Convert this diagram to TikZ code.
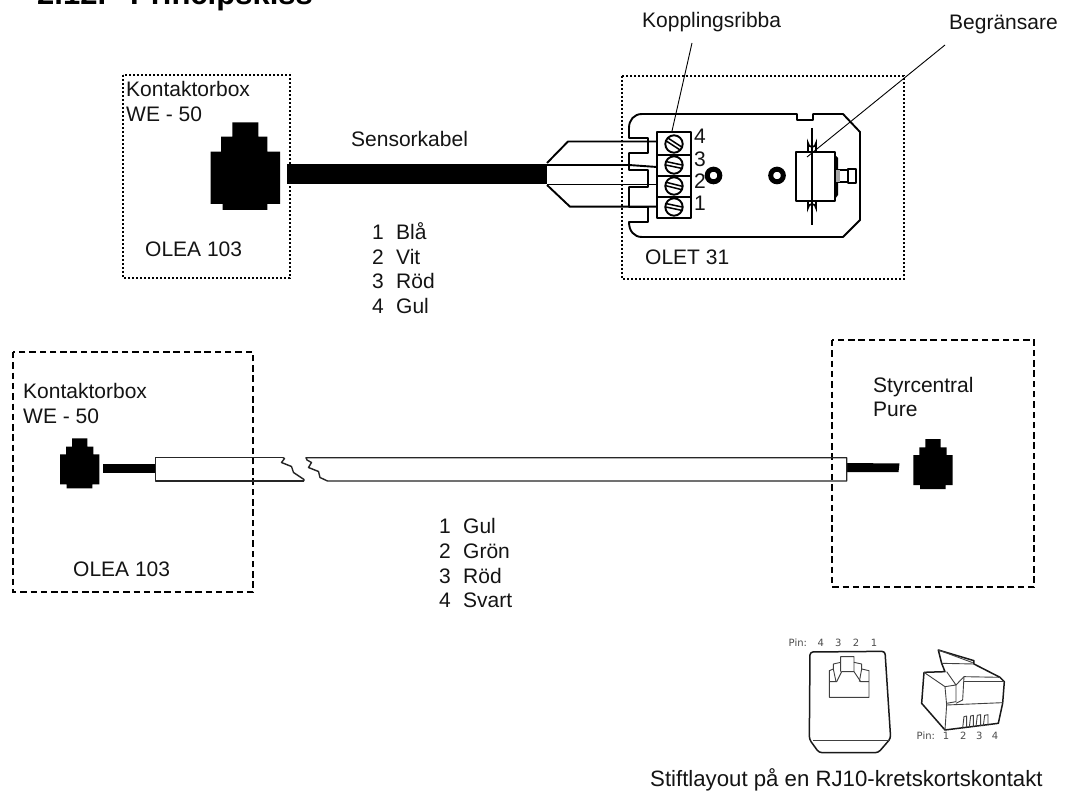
\documentclass[tikz,border=0pt]{standalone}
\usepackage{fontspec}
\setmainfont{Liberation Sans}
\newfontfamily\pinfont{DejaVu Sans}
\tikzset{
 lab/.style={anchor=base west,inner sep=0pt,font=\fontsize{21}{25}\selectfont,text=black!92},
 pinlab/.style={anchor=base,inner sep=0pt,font=\pinfont\fontsize{10}{12}\selectfont,text=black!70},
 dotbox/.style={draw=black,line width=1.6pt,dash pattern=on 2.4pt off 1.6pt},
 dashbox/.style={draw=black,line width=1.8pt,dash pattern=on 6.5pt off 3.8pt},
 body/.style={draw=black,line width=1.9pt,line join=round},
 thinbody/.style={draw=black!85,line width=1.4pt,line join=round},
 leader/.style={draw=black,line width=.9pt},
 sketch/.style={draw=black!75,line width=.9pt,line join=round},
 sketchb/.style={draw=black!90,line width=1.5pt,line join=round},
}
\begin{document}
\begin{tikzpicture}[x=1pt,y=-1pt]
\useasboundingbox (0,0) rectangle (1074,794);
\clip (0,0) rectangle (1074,794);
\fill[white] (0,0) rectangle (1074,794);
% title
\node[anchor=base west,inner sep=0pt,font=\fontsize{31}{31}\bfseries\selectfont] (title) at (37,5) {2.12.};
\node[anchor=base west,inner sep=0pt,font=\fontsize{31}{31}\bfseries\selectfont] (title2) at (130,5) {Principskiss};
% dotted boxes
\draw[dotbox] (123,75) rectangle (290,278);
\draw[dotbox] (622,76) rectangle (904,279);
% dashed boxes
\draw[dashbox] (13,352) rectangle (253,592);
\draw[dashbox] (832,340) rectangle (1034,587);
% upper plug
\fill (232.3,122.3) -| (258.3,136.7) -| (267.3,151.7) -| (280,204) -| (267.3,210) -| (222.7,204) -| (210.7,151.7) -| (221,136.7) -| (232.3,122.3) -- cycle;
% black cable
\fill (287,164) rectangle (547,184);
% sensor body
\draw[body] (642,114) -- (797,114) -- (797,120) -- (813,120) -- (813,114) -- (843,114) -- (860,132) -- (860,220) -- (843,237) -- (642,237)
 .. controls (634,237) and (629,231) .. (629,222) -- (648,222) -- (648,207) -- (629,207) -- (629,187) -- (648,187) -- (648,170) -- (629,170) -- (629,153) -- (648,153) -- (648,138) -- (629,138) -- (629,128)
 .. controls (629,120) and (634,114) .. (642,114) -- cycle;
% wires
\draw[body] (547,163) -- (568,141.5) -- (657,141.5);
\draw[body] (547,165) -- (629,165) -- (657,167);
\draw[body] (547,184.5) -- (657,184.5);
\draw[body] (547,185) -- (570,206.7) -- (657,206.7);
% terminal block
\draw[body,fill=white] (657,132) rectangle (691,218);
\draw[body] (657,155) -- (691,155) (657,176) -- (691,176) (657,197) -- (691,197);
\foreach \yy/\ang in {144/33,165/12,186/14,207/12}{
 \draw[body,fill=white] (674,\yy) circle (8.7);
 \begin{scope}[shift={(674,\yy)},rotate=-\ang]
  \draw[line width=1.5pt] (-8,-1.7) -- (8,-1.7) (-8,1.7) -- (8,1.7);
 \end{scope}
}
\node[lab] (n4) at (694,144) {4};
\node[lab] (n3) at (694,167) {3};
\node[lab] (n2) at (694,189) {2};
\node[lab] (n1) at (694,211) {1};
% rings
\draw[line width=5pt] (713.5,175.5) circle (6.3);
\draw[line width=5pt] (777,175.5) circle (6.3);
% limiter
\draw[body] (796,152) rectangle (835,201);
\fill (835,155) -- (838,158) -- (838,195) -- (835,199) -- cycle;
\draw[line width=1.7pt,fill=white] (808,152) -- (808,143) arc (180:0:4) -- (816,152) -- cycle;
\draw[line width=1.7pt,fill=white] (808,201) -- (808,208) arc (180:360:4) -- (816,201) -- cycle;
\draw[body] (812,128) -- (812,225);
\draw[body] (836,170) rectangle (848,182);
\draw[body] (848,169) rectangle (856,183);
\fill[black!35] (836,170) rectangle (840,182);
% leaders
\coordinate (kopA) at (692,43);
\coordinate (kopB) at (672,131);
\coordinate (begA) at (945,45);
\coordinate (begB) at (807,157);
\draw[leader] (kopA) -- (kopB);
\draw[leader] (begA) -- (begB);
% labels upper
\node[lab] (kop) at (642,28) {Kopplingsribba};
\node[lab] (beg) at (949,30) {Begränsare};
\node[lab] (k1) at (126,97) {Kontaktorbox};
\node[lab] (k2) at (126,122) {WE - 50};
\node[lab] (o1) at (145,257) {OLEA 103};
\node[lab] (o2) at (645,265) {OLET 31};
\node[lab] (sk) at (351,147) {Sensorkabel};
\foreach \nn/\yy/\tt in {a/240/Blå,b/265/Vit,c/289/Röd,d/314/Gul}{
 \node[lab] (up\nn) at (396,\yy) {\tt};
}
\node[lab] at (372,240) {1}; \node[lab] at (372,265) {2}; \node[lab] at (372,289) {3}; \node[lab] at (372,314) {4};
% lower cable
\fill (103,464.3) rectangle (156,472.7);
\fill (847,463) -- (899.5,463.5) -- (898.5,472) -- (847,472) -- cycle;
\draw[thinbody] (283,457.7) -- (155.7,457.7) -- (155.7,481) -- (304,481);
\draw[thinbody] (283,457.7) -- (284.5,458.5) -- (281.5,462.5) -- (291.5,466.5) -- (293.5,472.5) -- (304,479.5) -- (304,481);
\draw[thinbody] (327.5,481) -- (846.7,481) -- (846.7,457.7) -- (306,457.7) -- (307,460) -- (311.5,462.5) -- (308.5,467.5) -- (318.5,471.5) -- (320,477.5) -- (327.5,481);
% lower plugs
\foreach \dx/\dy in {0/0,853.3/.7}{
 \begin{scope}[shift={(\dx,\dy)}]
 \fill (72,438.3) -| (87.3,446.7) -| (93.3,454.3) -| (99.3,484.3) -| (92.3,488.3) -| (66.7,484.3) -| (60,454.3) -| (66,446.7) -| (72,438.3) -- cycle;
 \end{scope}
}
% labels lower
\node[lab] at (23,398) {Kontaktorbox};
\node[lab] at (23,423) {WE - 50};
\node[lab] at (73,576) {OLEA 103};
\node[lab] at (873,392) {Styrcentral};
\node[lab] at (873,417) {Pure};
\node[lab] at (439,533) {1}; \node[lab] at (439,558) {2}; \node[lab] at (439,583) {3}; \node[lab] at (439,607) {4};
\node[lab] at (463,533) {Gul}; \node[lab] at (463,558) {Grön}; \node[lab] at (463,583) {Röd}; \node[lab] at (463,607) {Svart};
% RJ10 front
\begin{scope}[shift={(770,640)},x=.3333pt,y=-.3333pt]
\draw[sketchb,rounded corners=3pt] (120,36) -- (345,34) -- (362,295) -- (325,338) -- (147,338) -- (118,298) -- cycle;
\draw[sketch] (130,300) -- (360,300);
\draw[sketch] (178,172) -- (297,172) -- (297,92) -- (275,87) -- (275,72) -- (252,67) -- (252,50) -- (212,50) -- (212,67) -- (190,72) -- (190,87) -- (178,92) -- cycle;
\draw[sketch] (178,125) -- (200,125) -- (215,95) -- (252,95) -- (272,125) -- (297,125);
\draw[sketch] (212,67) -- (212,95) (252,67) -- (252,95) (190,87) -- (198,125) (275,87) -- (268,125);
% RJ10 plug
\draw[sketchb] (462,97) -- (455,190) -- (525,270) -- (685,250) -- (698,190) -- (703,125) -- (690,112) -- (612,72) -- (612,62) -- (505,30) -- (510,50) -- (515,70) -- (525,95) -- (462,97);
\draw[sketch] (462,97) -- (525,140) -- (558,135) -- (530,95);
\draw[sketch] (525,140) -- (530,195) -- (525,270);
\draw[sketch] (530,195) -- (698,188);
\draw[sketch] (530,190) -- (558,185) -- (558,135) -- (582,110) -- (690,112);
\draw[sketch] (582,110) -- (578,180) -- (558,190);
\draw[sketch] (505,30) -- (608,68) (515,70) -- (612,72);
\draw[sketch] (582,125) -- (703,125);
\draw[sketch] (578,265) -- (582,230) -- (590,228) -- (590,262);
\draw[sketch] (598,262) -- (602,228) -- (610,226) -- (610,260);
\draw[sketch] (618,260) -- (622,226) -- (632,224) -- (632,258);
\draw[sketch] (640,258) -- (644,226) -- (654,224) -- (654,256);
\end{scope}
\node[pinlab,anchor=base west] at (788.5,646.5) {Pin:};
\node[pinlab] at (820.7,646.5) {4};
\node[pinlab] at (838.3,646.5) {3};
\node[pinlab] at (856,646.5) {2};
\node[pinlab] at (874,646.5) {1};
\node[pinlab,anchor=base west] at (916.5,739.5) {Pin:};
\node[pinlab] at (946,739.5) {1};
\node[pinlab] at (963.3,739.5) {2};
\node[pinlab] at (979.3,739.5) {3};
\node[pinlab] at (995,739.5) {4};
\node[lab,font=\fontsize{22.2}{25}\selectfont] (stift) at (650,786) {Stiftlayout på en RJ10-kretskortskontakt};
\end{tikzpicture}
\end{document}
